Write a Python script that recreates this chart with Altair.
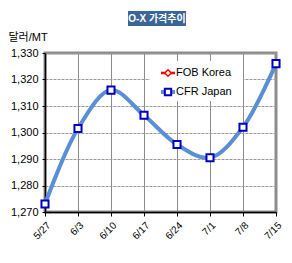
import altair as alt
import pandas as pd

dates = ["5/27", "6/3", "6/10", "6/17", "6/24", "7/1", "7/8", "7/15"]
fob_korea = [1273, 1301.5, 1316, 1306.5, 1295.5, 1290.5, 1302, 1326]
cfr_japan = [1273, 1301.5, 1316, 1306.5, 1295.5, 1290.5, 1302, 1326]
y_ticks = [1270, 1280, 1290, 1300, 1310, 1320, 1330]

FONT = "Liberation Sans, Noto Sans CJK KR"

rows = []
for d, v in zip(dates, fob_korea):
    rows.append({"date": d, "value": v, "series": "FOB Korea"})
for d, v in zip(dates, cfr_japan):
    rows.append({"date": d, "value": v, "series": "CFR Japan"})
df = pd.DataFrame(rows)

x_enc = alt.X("date:N", sort=dates, scale=alt.Scale(type="point", padding=0),
              axis=alt.Axis(title=None, labelAngle=-45, labelAlign="right", labelBaseline="top",
                            labelPadding=4, labelFontSize=10, labelColor="black", labelFont=FONT,
                            domainColor="black", domainWidth=1.5, tickColor="black", tickSize=4,
                            grid=True, gridColor="#8c8c8c", gridWidth=1))
y_enc = alt.Y("value:Q", scale=alt.Scale(domain=[1270, 1330], nice=False, zero=False),
              axis=alt.Axis(values=y_ticks, format=",d", title="달러/MT", titleAngle=0,
                            titleAlign="left", titleBaseline="middle", titleX=-37, titleY=-16,
                            titleFontSize=11, titleFontWeight="normal", titleFont=FONT,
                            labelFontSize=11, labelColor="black", labelFont=FONT, labelPadding=4,
                            domainColor="black", domainWidth=1.5, tickColor="black", tickSize=3,
                            grid=True, gridColor="#9a9a9a", gridWidth=1, gridDash=[3, 1]))

fob = df[df.series == "FOB Korea"]
cfr = df[df.series == "CFR Japan"]

fob_line = alt.Chart(fob).mark_line(color="#ff0000", strokeWidth=2.5, interpolate="catmull-rom").encode(x=x_enc, y=y_enc)
fob_pts = alt.Chart(fob).mark_point(shape="diamond", filled=True, fill="white", stroke="#ff0000",
                                     strokeWidth=1.5, size=40, opacity=1).encode(x=x_enc, y=y_enc)
cfr_line = alt.Chart(cfr).mark_line(color="#5a8fd6", strokeWidth=4, interpolate="catmull-rom").encode(x=x_enc, y=y_enc)
cfr_pts = alt.Chart(cfr).mark_point(shape="square", filled=True, fill="white", stroke="#0000c0",
                                     strokeWidth=2, size=50, opacity=1).encode(x=x_enc, y=y_enc)

one = alt.Data(values=[{"a": 1}])

# title box
title_box = alt.Chart(one).mark_rect(color="#3a6597").encode(
    x=alt.value(83), x2=alt.value(141), y=alt.value(-42), y2=alt.value(-27))
title_txt = alt.Chart(one).mark_text(text="O-X 가격추이", color="white", fontSize=10, fontWeight="bold",
                                      font=FONT, align="center", baseline="middle").encode(
    x=alt.value(112), y=alt.value(-34.5))

# legend
leg_bg = alt.Chart(one).mark_rect(color="white").encode(
    x=alt.value(105), x2=alt.value(198), y=alt.value(8), y2=alt.value(48))
leg_r1 = alt.Chart(one).mark_rule(color="#ff0000", strokeWidth=2.5).encode(
    x=alt.value(116), x2=alt.value(130), y=alt.value(20))
leg_p1 = alt.Chart(one).mark_point(shape="diamond", filled=True, fill="white", stroke="#ff0000",
                                    strokeWidth=1.5, size=40, opacity=1).encode(x=alt.value(123), y=alt.value(20))
leg_t1 = alt.Chart(one).mark_text(text="FOB Korea", fontSize=11, font=FONT, color="black",
                                   align="left", baseline="middle").encode(x=alt.value(131), y=alt.value(20))
leg_r2 = alt.Chart(one).mark_rule(color="#5a8fd6", strokeWidth=4).encode(
    x=alt.value(116), x2=alt.value(130), y=alt.value(39))
leg_p2 = alt.Chart(one).mark_point(shape="square", filled=True, fill="white", stroke="#0000c0",
                                    strokeWidth=2, size=40, opacity=1).encode(x=alt.value(123), y=alt.value(39))
leg_t2 = alt.Chart(one).mark_text(text="CFR Japan", fontSize=11, font=FONT, color="black",
                                   align="left", baseline="middle").encode(x=alt.value(131), y=alt.value(39))

chart = alt.layer(
    fob_line, leg_bg, fob_pts, cfr_line, cfr_pts,
    title_box, title_txt, leg_r1, leg_p1, leg_t1, leg_r2, leg_p2, leg_t2
).properties(
    width=231, height=159,
    autosize=alt.AutoSizeParams(type="none"),
    padding={"left": 45, "top": 53, "right": 16, "bottom": 51},
    background="white",
).configure_view(stroke="#8c8c8c", strokeWidth=3)

chart.save("out.html", embed_options={"renderer": "svg", "actions": False})
